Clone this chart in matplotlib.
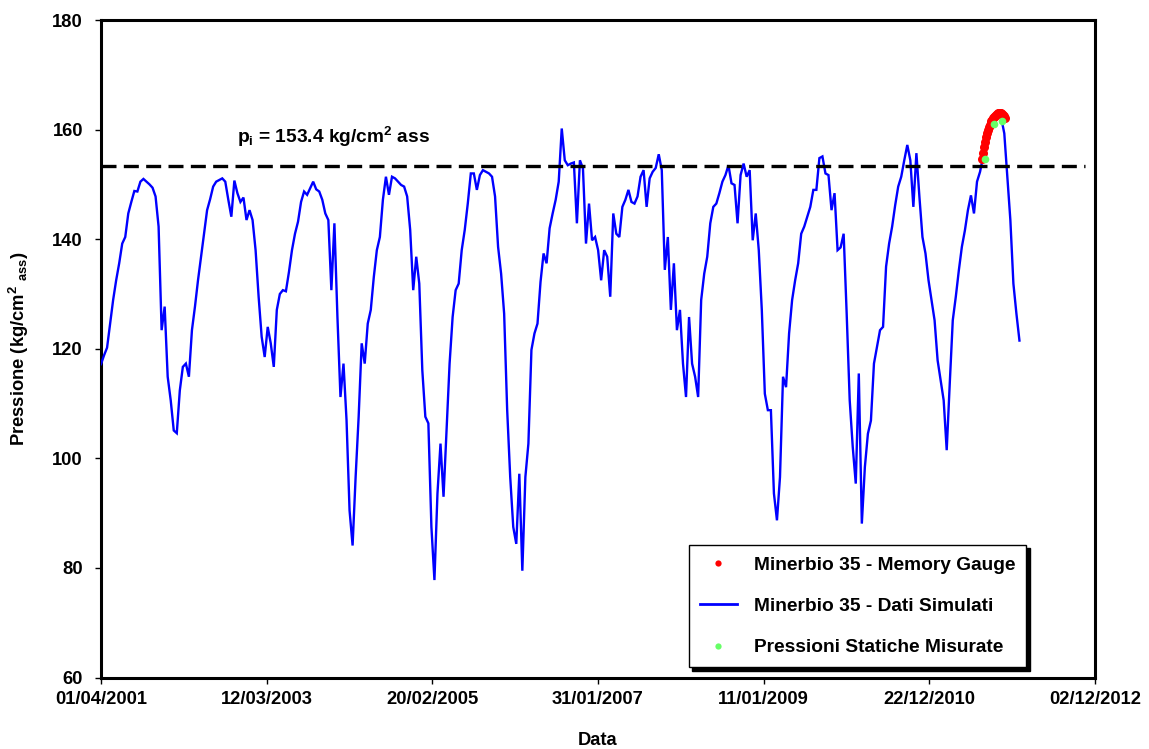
import matplotlib
matplotlib.use("Agg")
import matplotlib.pyplot as plt
import matplotlib.transforms as mtransforms
from matplotlib.lines import Line2D
import pandas as pd

# ---------------------------------------------------------------- data
# simulated bottom-hole pressure, one value every 13 days from 01/04/2001
sim_start = "2001-04-01"
sim_step = "13D"
pressure_sim = [
    117.2, 118.8, 120.2, 124.6, 128.9, 132.5, 135.6, 139.2, 140.4, 144.7,
    146.8, 148.8, 148.7, 150.5, 151.0, 150.5, 150.0, 149.4, 147.8, 142.3,
    123.4, 127.7, 114.9, 110.6, 105.1, 104.6, 112.4, 116.7, 117.3, 114.9,
    123.4, 127.7, 132.5, 136.8, 141.0, 145.3, 147.3, 149.6, 150.5, 150.8,
    151.1, 150.5, 147.2, 144.1, 150.7, 148.4, 146.8, 147.6, 143.5, 145.3,
    143.5, 138.0, 129.5, 122.2, 118.5, 124.0, 121.0, 116.7, 127.1, 130.0,
    130.7, 130.5, 134.0, 138.0, 141.0, 143.2, 146.8, 148.7, 148.1, 149.3,
    150.5, 149.1, 148.7, 147.2, 144.7, 143.5, 130.7, 142.9, 125.8, 111.2,
    117.3, 107.0, 90.5, 84.1, 96.6, 107.6, 121.0, 117.3, 124.6, 127.1,
    133.1, 138.0, 140.4, 147.2, 151.4, 148.1, 151.4, 151.1, 150.5, 149.9,
    149.6, 147.8, 141.7, 130.7, 136.8, 131.9, 116.1, 107.6, 106.4, 87.5,
    77.8, 93.6, 102.7, 93.0, 105.1, 117.3, 125.8, 130.7, 131.9, 138.0,
    141.7, 146.5, 152.0, 152.0, 149.0, 151.7, 152.6, 152.3, 152.0, 151.4,
    147.8, 138.6, 133.7, 126.4, 108.8, 96.6, 87.5, 84.4, 97.2, 79.5,
    96.6, 102.7, 119.8, 122.8, 124.6, 132.2, 137.4, 135.6, 142.0, 144.7,
    147.2, 150.5, 160.2, 154.4, 153.5, 153.8, 154.0, 142.9, 154.4, 152.9,
    139.2, 146.5, 139.8, 140.4, 138.0, 132.5, 138.0, 136.8, 129.5, 144.7,
    141.0, 140.4, 145.9, 147.2, 149.0, 146.8, 146.5, 147.8, 151.4, 152.6,
    145.9, 151.1, 152.3, 153.0, 155.5, 152.6, 134.4, 140.4, 127.1, 135.6,
    123.4, 127.1, 117.3, 111.2, 125.8, 117.3, 114.9, 111.2, 128.9, 133.7,
    136.8, 142.9, 145.9, 146.5, 148.4, 150.5, 151.7, 153.5, 150.2, 149.9,
    142.9, 151.7, 153.8, 151.4, 152.6, 139.8, 144.7, 138.0, 127.1, 111.8,
    108.8, 108.8, 93.6, 88.7, 96.6, 114.9, 113.0, 122.8, 128.9, 132.5,
    135.6, 141.0, 142.3, 144.1, 145.9, 149.0, 149.0, 154.8, 155.1, 152.0,
    151.7, 145.3, 148.4, 138.0, 138.5, 141.0, 126.4, 110.6, 102.1, 95.4,
    115.5, 88.1, 98.4, 104.5, 106.9, 117.3, 120.3, 123.4, 124.0, 135.0,
    139.2, 142.3, 146.2, 149.6, 151.4, 154.4, 157.2, 154.4, 145.9, 155.7,
    147.7, 140.4, 137.4, 132.5, 128.9, 125.2, 117.9, 114.2, 110.6, 101.5,
    113.6, 125.2, 129.5, 134.3, 138.6, 141.6, 145.3, 148.0, 144.7, 150.5,
    152.3, 155.0, 157.8, 160.2, 161.7, 162.7, 163.0, 162.1, 159.3, 151.4,
    143.5, 131.9, 126.4, 121.5,
]

# memory gauge readings, one every 4 days
gauge_start = "2011-08-06"
gauge_step = "4D"
pressure_gauge = [
    154.6, 155.8, 156.9, 157.8, 158.6, 159.3, 159.9, 160.4, 160.8, 161.2,
    161.5, 161.8, 162.1, 162.3, 162.5, 162.7, 162.9, 163.0, 163.1, 163.1,
    163.0, 162.9, 162.7, 162.4, 162.1,
]

# measured static pressures
static_dates = ["2011-08-18", "2011-09-25", "2011-10-30"]
static_values = [154.7, 161.1, 161.6]

# initial reservoir pressure
p_init = 153.4
p_init_span = ["2001-04-01", "2012-10-20"]

x_tick_labels = ["01/04/2001", "12/03/2003", "20/02/2005", "31/01/2007",
                 "11/01/2009", "22/12/2010", "02/12/2012"]
y_ticks = [60, 80, 100, 120, 140, 160, 180]

legend_labels = ["Minerbio 35 - Memory Gauge",
                 "Minerbio 35 - Dati Simulati",
                 "Pressioni Statiche Misurate"]

# ---------------------------------------------------------------- style
plt.rcParams["font.family"] = ["Liberation Sans", "DejaVu Sans"]
plt.rcParams["font.weight"] = "bold"
plt.rcParams["mathtext.fontset"] = "custom"
plt.rcParams["mathtext.rm"] = "Liberation Sans:bold"
plt.rcParams["mathtext.it"] = "Liberation Sans:bold"
plt.rcParams["mathtext.bf"] = "Liberation Sans:bold"
plt.rcParams["mathtext.default"] = "rm"

BLUE = "#0000FF"
RED = "#FF0000"
GREEN = "#66FF66"
FS = 13.2

W, H = 1149, 749
fig = plt.figure(figsize=(W / 100, H / 100), dpi=100)
ax = fig.add_axes([101 / W, 1 - 677.6 / H, (1095 - 101) / W, (677.6 - 20) / H])

sim_dates = pd.date_range(sim_start, periods=len(pressure_sim), freq=sim_step)
gauge_dates = pd.date_range(gauge_start, periods=len(pressure_gauge), freq=gauge_step)

ax.plot(sim_dates, pressure_sim, color=BLUE, lw=1.7, zorder=3,
        solid_joinstyle="miter")
ax.plot(pd.to_datetime(p_init_span), [p_init, p_init], color="black", lw=2.4,
        dashes=(4.5, 2.2), zorder=4)
ax.plot(gauge_dates, pressure_gauge, ls="none", marker="o", ms=6.5,
        color=RED, mec="none", zorder=5)
ax.plot(pd.to_datetime(static_dates), static_values, ls="none", marker="o",
        ms=5.5, color=GREEN, mec="none", zorder=6)

# annotation for the initial pressure
trans = mtransforms.blended_transform_factory(ax.transAxes, ax.transData)
ax.text((237 - 101) / 994, 157.5, r"p$_{i}$ = 153.4 kg/cm$^{2}$ ass",
        transform=trans, fontsize=13.8, fontweight="bold", va="baseline",
        ha="left", zorder=7)

# axes
tick_dates = pd.to_datetime(x_tick_labels, dayfirst=True)
ax.set_xlim(tick_dates[0], tick_dates[-1])
ax.set_xticks(tick_dates)
ax.set_xticklabels(x_tick_labels)
ax.set_ylim(60, 180)
ax.set_yticks(y_ticks)
ax.set_yticklabels([str(v) for v in y_ticks])

for side in ["left", "right", "top", "bottom"]:
    ax.spines[side].set_linewidth(2.2)
    ax.spines[side].set_color("black")

ax.tick_params(axis="both", direction="out", length=4, width=1,
               labelsize=FS, colors="black")
ax.tick_params(axis="x", pad=6)
ax.tick_params(axis="y", pad=9)

ax.set_xlabel("Data", fontsize=FS, fontweight="bold", labelpad=17)
ax.set_ylabel(r"Pressione (kg/cm$^{2}$ $_{ass}$)", fontsize=FS,
              fontweight="bold", labelpad=15)

# legend
handles = [
    Line2D([], [], ls="none", marker="o", ms=4.5, color=RED, mec="none"),
    Line2D([], [], color=BLUE, lw=2),
    Line2D([], [], ls="none", marker="o", ms=4.5, color=GREEN, mec="none"),
]
leg = ax.legend(handles, legend_labels, loc="upper left",
                bbox_to_anchor=(689 / W, 1 - 545 / H),
                bbox_transform=fig.transFigure, borderaxespad=0,
                frameon=True, fancybox=False, edgecolor="black",
                framealpha=1, fontsize=13.8, handlelength=1.9,
                handletextpad=0.9, labelspacing=1.25, borderpad=0.58,
                shadow={"color": "black", "alpha": 1, "ox": 2.5, "oy": -2.5})
leg.get_frame().set_linewidth(1.0)
leg.set_zorder(10)

fig.savefig("out.png", dpi=100)
